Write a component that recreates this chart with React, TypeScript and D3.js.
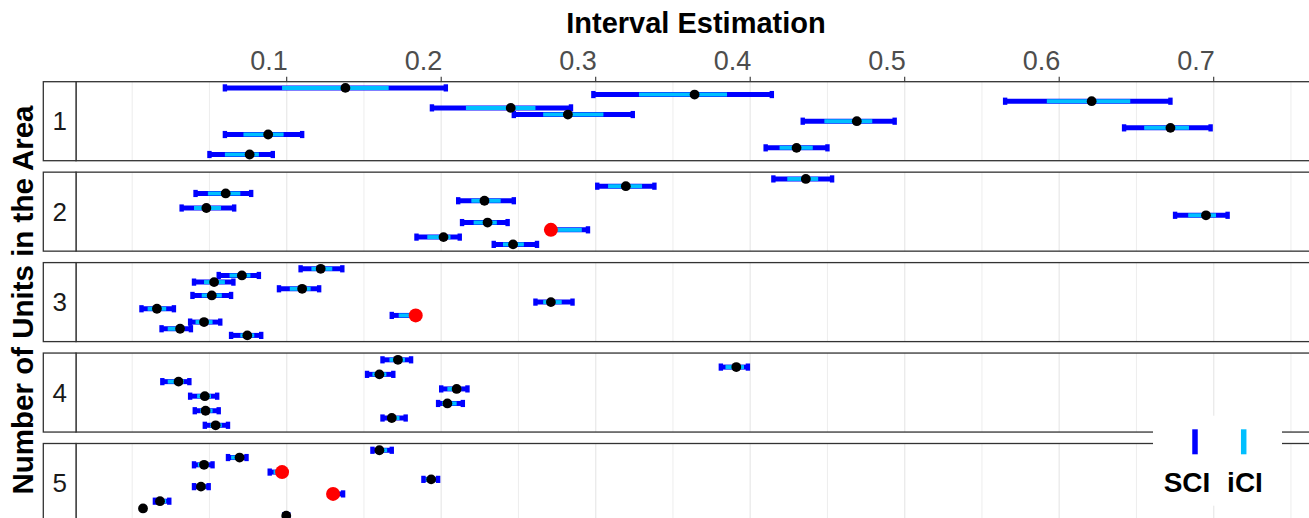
import * as d3 from "d3";

// each row: slot in panel, estimate, SCI lo/hi, iCI lo/hi, flagged (red)
type Row = [number, number, number, number, number, number, boolean?];

const units1: Row[] = [
  [0, 0.138, 0.060, 0.203, 0.097, 0.166],
  [1, 0.364, 0.2985, 0.414, 0.328, 0.385],
  [2, 0.621, 0.565, 0.672, 0.592, 0.646],
  [3, 0.245, 0.194, 0.284, 0.216, 0.261],
  [4, 0.282, 0.247, 0.324, 0.266, 0.305],
  [5, 0.469, 0.434, 0.4935, 0.448, 0.479],
  [6, 0.672, 0.642, 0.698, 0.655, 0.684],
  [7, 0.088, 0.060, 0.110, 0.072, 0.098],
  [9, 0.430, 0.410, 0.450, 0.419, 0.4405],
  [10, 0.076, 0.050, 0.091, 0.060, 0.082],
];
const units2: Row[] = [
  [0, 0.436, 0.415, 0.453, 0.424, 0.444],
  [1, 0.3195, 0.301, 0.338, 0.308, 0.330],
  [2, 0.0605, 0.041, 0.077, 0.049, 0.070],
  [3, 0.228, 0.211, 0.247, 0.2195, 0.2385],
  [4, 0.048, 0.032, 0.066, 0.040, 0.0575],
  [5, 0.695, 0.675, 0.709, 0.6835, 0.7015],
  [6, 0.230, 0.2135, 0.243, 0.221, 0.236],
  [7, 0.271, 0.271, 0.295, 0.271, 0.291, true],
  [8, 0.2015, 0.184, 0.212, 0.191, 0.206],
  [9, 0.2465, 0.234, 0.262, 0.240, 0.2535],
];
const units3: Row[] = [
  [0, 0.122, 0.109, 0.136, 0.116, 0.1295],
  [1, 0.071, 0.056, 0.082, 0.063, 0.0765],
  [2, 0.053, 0.040, 0.0655, 0.0465, 0.060],
  [3, 0.110, 0.095, 0.121, 0.102, 0.1155],
  [4, 0.0515, 0.039, 0.064, 0.045, 0.058],
  [5, 0.271, 0.261, 0.285, 0.266, 0.278],
  [6, 0.016, 0.006, 0.027, 0.010, 0.022],
  [7, 0.1835, 0.168, 0.1835, 0.1725, 0.1835, true],
  [8, 0.0465, 0.0375, 0.057, 0.041, 0.052],
  [9, 0.031, 0.019, 0.038, 0.023, 0.034],
  [10, 0.0745, 0.064, 0.0835, 0.070, 0.079],
];
const units4: Row[] = [
  [0, 0.172, 0.162, 0.1805, 0.1665, 0.1765],
  [1, 0.391, 0.381, 0.3985, 0.384, 0.396],
  [2, 0.160, 0.152, 0.169, 0.1555, 0.1645],
  [3, 0.030, 0.0195, 0.037, 0.023, 0.0335],
  [4, 0.210, 0.200, 0.217, 0.204, 0.213],
  [5, 0.047, 0.0375, 0.055, 0.042, 0.051],
  [6, 0.204, 0.198, 0.214, 0.2005, 0.210],
  [7, 0.0475, 0.0405, 0.056, 0.044, 0.052],
  [8, 0.168, 0.162, 0.177, 0.1655, 0.173],
  [9, 0.054, 0.047, 0.062, 0.0505, 0.058],
];
const units5: Row[] = [
  [0, 0.160, 0.1555, 0.168, 0.1575, 0.165],
  [1, 0.0695, 0.062, 0.074, 0.064, 0.072],
  [2, 0.0465, 0.040, 0.052, 0.0425, 0.0495],
  [3, 0.097, 0.089, 0.097, 0.0915, 0.097, true],
  [4, 0.1935, 0.1885, 0.198, 0.190, 0.1965],
  [5, 0.0445, 0.040, 0.0495, 0.042, 0.0475],
  [6, 0.130, 0.130, 0.1365, 0.130, 0.1335, true],
  [7, 0.018, 0.0147, 0.024, 0.0166, 0.022],
  [8, 0.007, 0.0066, 0.0077, 0.0068, 0.0075],
  [9, 0.0997, 0.0985, 0.101, 0.099, 0.1005],
];

const panels = [
  { label: "1", slots: 11, rows: units1 },
  { label: "2", slots: 10, rows: units2 },
  { label: "3", slots: 11, rows: units3 },
  { label: "4", slots: 10, rows: units4 },
  { label: "5", slots: 10, rows: units5 },
];

const xTicks = [0.1, 0.2, 0.3, 0.4, 0.5, 0.6, 0.7];
const legendItems = ["SCI", "iCI"];

const W = 1309;
const H = 518;
const FONT = "'Liberation Sans', Arial, Helvetica, sans-serif";
const SCI_COL = "#0000FF";
const ICI_COL = "#00BFFF";

const stripLeft = 43.3;
const panelLeft = 76;
const panelRight = 1316;
const panelTop0 = 81.7;
const panelStep = 90.45;
const panelH = 79;

export default function App() {
  const x = d3.scaleLinear().domain([0.1, 0.7]).range([286.7, 1213.7]);
  const grid = d3.range(0, 0.8, 0.05).map((v) => +v.toFixed(2));
  const color = d3.scaleOrdinal<string>().domain(legendItems).range([SCI_COL, ICI_COL]);

  return (
    <svg
      width={W}
      height={H}
      style={{ position: "absolute", left: 0, top: 0, background: "#fff" }}
      fontFamily={FONT}
    >
      <text x={696} y={33} textAnchor="middle" fontSize={29} fontWeight="bold" fill="#000">
        Interval Estimation
      </text>
      <text
        transform={`translate(32.5,300) rotate(-90)`}
        textAnchor="middle"
        fontSize={29.5}
        fontWeight="bold"
        fill="#000"
      >
        Number of Units in the Area
      </text>

      {xTicks.map((t) => (
        <g key={t}>
          <line x1={x(t)} x2={x(t)} y1={panelTop0 - 5} y2={panelTop0} stroke="#333" strokeWidth={1.1} />
          <text x={x(t) + 1} y={70} textAnchor="end" fontSize={27} fill="#4D4D4D">
            {t.toFixed(1)}
          </text>
        </g>
      ))}

      {panels.map((p, i) => {
        const top = panelTop0 + i * panelStep;
        const y = d3.scaleLinear().domain([-0.93, p.slots - 1 + 0.93]).range([top, top + panelH]);
        return (
          <g key={p.label}>
            <rect x={panelLeft} y={top} width={panelRight - panelLeft} height={panelH} fill="#fff" />
            {grid.map((g) => {
              const major = xTicks.includes(g);
              return (
                <line
                  key={g}
                  x1={x(g)}
                  x2={x(g)}
                  y1={top}
                  y2={top + panelH}
                  stroke="#EBEBEB"
                  strokeWidth={major ? 1.4 : 0.9}
                />
              );
            })}
            {p.rows.map((r) => {
              const cy = y(r[0]);
              return (
                <g key={"s" + r[0]}>
                  <line x1={x(r[2])} x2={x(r[3])} y1={cy} y2={cy} stroke={SCI_COL} strokeWidth={5} />
                  <rect x={x(r[2]) - 2.2} y={cy - 3.6} width={4.4} height={7.2} fill={SCI_COL} />
                  <rect x={x(r[3]) - 2.2} y={cy - 3.6} width={4.4} height={7.2} fill={SCI_COL} />
                  <line x1={x(r[4])} x2={x(r[5])} y1={cy} y2={cy} stroke={ICI_COL} strokeWidth={4} />
                </g>
              );
            })}
            {p.rows.map((r) => (
              <circle
                key={"p" + r[0]}
                cx={x(r[1])}
                cy={y(r[0])}
                r={r[6] ? 7 : 4.9}
                fill={r[6] ? "#FF0000" : "#000"}
              />
            ))}
            <rect
              x={panelLeft}
              y={top}
              width={panelRight - panelLeft}
              height={panelH}
              fill="none"
              stroke="#333"
              strokeWidth={1.3}
            />
            <rect
              x={stripLeft}
              y={top}
              width={panelLeft - stripLeft}
              height={panelH}
              fill="#fff"
              stroke="#333"
              strokeWidth={1.3}
            />
            <text
              x={(stripLeft + panelLeft) / 2}
              y={top + panelH / 2}
              dy="0.35em"
              textAnchor="middle"
              fontSize={26}
              fill="#1A1A1A"
            >
              {p.label}
            </text>
          </g>
        );
      })}

      <g>
        <rect x={1153} y={415.7} width={129} height={90} fill="#fff" />
        {legendItems.map((k, i) => {
          const kx = [1195, 1243.7][i];
          const lx = [1187, 1245][i];
          return (
            <g key={k}>
              <line x1={kx} x2={kx} y1={429.3} y2={454.3} stroke={color(k)} strokeWidth={5.5} />
              <text x={lx} y={491.7} textAnchor="middle" fontSize={28} fontWeight="bold" fill="#000">
                {k}
              </text>
            </g>
          );
        })}
      </g>
    </svg>
  );
}
